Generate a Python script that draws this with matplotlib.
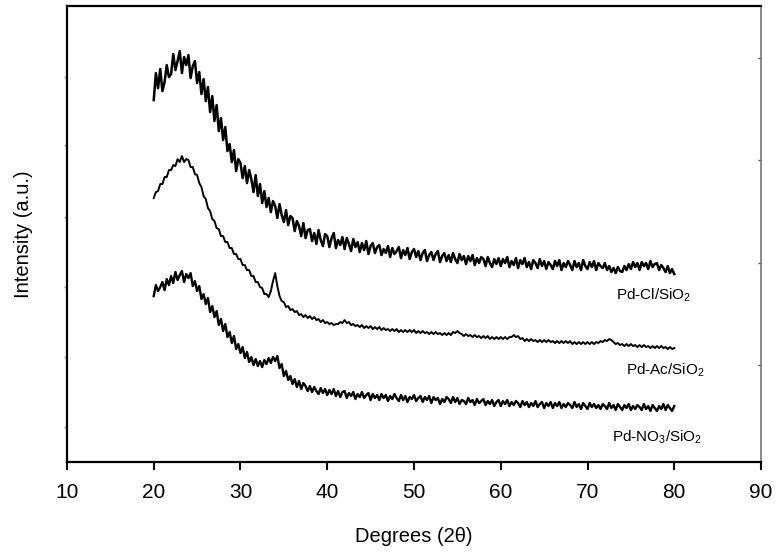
import numpy as np
import matplotlib
matplotlib.use("Agg")
import matplotlib.pyplot as plt

plt.rcParams['font.family'] = ['Liberation Sans', 'DejaVu Sans']
plt.rcParams['mathtext.fontset'] = 'custom'
plt.rcParams['mathtext.rm'] = 'Liberation Sans'
plt.rcParams['mathtext.default'] = 'regular'

# -------------------- Data (0.25 deg scan step) --------------------
two_theta = np.linspace(20, 80, 241)

pd_cl = [
    362, 389, 374, 393, 371, 380, 397, 385,   # 20-21.75
    388, 408, 392, 401, 411, 389, 405, 397,   # 22
    407, 384, 396, 401, 379, 390, 368, 383,   # 24
    361, 375, 350, 366, 341, 357, 331, 344,   # 26
    322, 335, 311, 318, 300, 312, 291, 303,   # 28
    299, 284, 296, 279, 292, 283, 270, 287,   # 30
    266, 278, 259, 271, 255, 264, 250, 261,   # 32
    256, 244, 258, 247, 240, 252, 237, 246,   # 34
    244, 231, 241, 236, 226, 239, 224, 232,   # 36
    233, 221, 229, 218, 232, 222, 216, 228,   # 38
    226, 215, 224, 229, 214, 222, 217, 225,   # 40
    213, 224, 218, 211, 223, 215, 220, 210,   # 42
    219, 212, 221, 208, 216, 219, 209, 215,   # 44
    217, 207, 213, 209, 216, 205, 214, 208,   # 46
    211, 215, 204, 212, 207, 214, 203, 210,   # 48
    213, 205, 211, 202, 209, 212, 201, 207,   # 50
    210, 202, 208, 211, 200, 206, 209, 201,   # 52
    207, 200, 209, 203, 199, 208, 202, 206,   # 54
    198, 206, 201, 207, 197, 204, 199, 205,   # 56
    203, 196, 205, 199, 195, 203, 198, 204,   # 58
    196, 203, 199, 205, 195, 201, 197, 204,   # 60
    194, 202, 198, 204, 195, 200, 193, 202,   # 62
    199, 194, 203, 196, 201, 193, 200, 197,   # 64
    193, 201, 196, 202, 192, 199, 195, 201,   # 66
    197, 192, 201, 195, 199, 192, 202, 196,   # 68
    193, 200, 195, 201, 192, 199, 196, 194,   # 70
    199, 192, 196, 190, 194, 189, 195, 191,   # 72
    190, 196, 192, 198, 193, 200, 195, 199,   # 74
    192, 200, 196, 199, 193, 201, 195, 198,   # 76
    199, 192, 197, 194, 190, 196, 189, 193,   # 78
    188,                                      # 80
]

pd_ac = [
    264, 270, 271, 278, 278, 285, 285, 292,
    292, 297, 296, 303, 300, 306, 300, 303,
    302, 295, 295, 288, 287, 279, 275, 266,
    263, 254, 251, 243, 241, 234, 233, 226,
    226, 220, 220, 214, 214, 208, 208, 203,
    203, 197, 197, 192, 192, 186, 186, 180,
    180, 175, 174, 168, 168, 165, 171, 181,
    189, 176, 166, 161, 160, 155, 156, 152,
    153, 150, 151, 147, 148, 145, 147, 144,
    146, 143, 145, 142, 143, 140, 142, 139,
    140, 138, 139, 137, 138, 138, 140, 139,
    142, 139, 140, 137, 138, 136, 137, 135,
    137, 134, 136, 134, 136, 133, 135, 133,
    135, 132, 134, 132, 133, 131, 133, 131,
    133, 130, 132, 130, 132, 130, 132, 130,
    132, 129, 131, 129, 131, 129, 130, 128,
    130, 128, 130, 128, 129, 127, 129, 127,
    129, 127, 130, 129, 131, 129, 128, 126,
    128, 126, 127, 125, 127, 125, 126, 124,
    126, 124, 126, 123, 125, 123, 125, 123,
    125, 123, 125, 123, 125, 125, 127, 125,
    126, 123, 124, 121, 123, 121, 123, 121,
    122, 120, 122, 120, 122, 120, 122, 120,
    121, 119, 121, 119, 121, 119, 121, 119,
    121, 118, 120, 118, 120, 118, 120, 118,
    120, 118, 120, 118, 120, 119, 121, 120,
    122, 121, 123, 122, 120, 118, 119, 117,
    118, 116, 118, 116, 118, 116, 117, 115,
    117, 115, 117, 115, 116, 114, 116, 114,
    116, 114, 116, 114, 115, 113, 115, 113,
    114,
]

pd_no3 = [
    166, 177, 171, 175, 180, 172, 183, 177,
    186, 179, 190, 182, 187, 191, 180, 188,
    184, 189, 176, 181, 171, 176, 163, 168,
    158, 164, 150, 156, 145, 151, 137, 143,
    131, 138, 125, 130, 119, 126, 113, 118,
    109, 115, 104, 110, 100, 105, 97, 103,
    96, 101, 95, 102, 98, 104, 99, 105,
    101, 106, 94, 98, 86, 91, 82, 86,
    78, 83, 75, 81, 73, 79, 76, 71,
    76, 70, 75, 71, 68, 74, 69, 73,
    67, 72, 68, 73, 66, 71, 65, 70,
    71, 64, 69, 66, 70, 63, 68, 65,
    70, 64, 67, 69, 62, 68, 64, 67,
    62, 68, 64, 67, 61, 66, 63, 68,
    64, 61, 67, 62, 66, 60, 65, 63,
    67, 61, 64, 66, 60, 65, 62, 66,
    59, 65, 62, 64, 58, 63, 60, 65,
    63, 59, 65, 60, 64, 58, 62, 61,
    58, 64, 60, 62, 57, 63, 59, 61,
    63, 57, 61, 58, 62, 56, 60, 62,
    56, 61, 58, 62, 56, 60, 57, 61,
    59, 55, 61, 57, 60, 55, 59, 56,
    61, 55, 58, 60, 54, 59, 56, 60,
    54, 59, 56, 60, 54, 58, 55, 59,
    57, 54, 60, 55, 58, 53, 59, 56,
    53, 59, 55, 58, 54, 57, 53, 58,
    56, 53, 59, 54, 57, 52, 58, 55,
    52, 57, 54, 58, 52, 56, 53, 57,
    55, 52, 58, 53, 56, 51, 57, 54,
    51, 56, 53, 58, 52, 57, 54, 51,
    56,
]

labels = ["Pd-Cl/SiO$_2$", "Pd-Ac/SiO$_2$", "Pd-NO$_3$/SiO$_2$"]
label_pos = [(73.3, 167), (74.4, 92), (72.8, 25)]

x_ticks = [10, 20, 30, 40, 50, 60, 70, 80, 90]
left_minor = [35, 105, 175, 245, 317, 385]
right_minor = [97, 199, 302, 404]

# -------------------- Plot --------------------
fig = plt.figure(figsize=(7.76, 5.54), dpi=100)
ax = fig.add_axes([0.0863, 0.166, 0.8944, 0.823])

for series, lw in ((pd_cl, 1.8), (pd_ac, 1.4), (pd_no3, 1.7)):
    ax.plot(two_theta, series, color='black', lw=lw)

for text, (tx, ty) in zip(labels, label_pos):
    ax.text(tx, ty, text, fontsize=11, ha='left', va='center')

ax.set_xlim(10, 90)
ax.set_ylim(0, 456)
ax.set_xticks(x_ticks)
ax.tick_params(axis='x', direction='out', length=6, width=1.5, labelsize=15, pad=9)
ax.set_yticks(left_minor)
ax.set_yticklabels([])
ax.tick_params(axis='y', direction='out', length=2, width=1, color='#999999')

sec = ax.secondary_yaxis('right')
sec.set_yticks(right_minor)
sec.set_yticklabels([])
sec.tick_params(axis='y', direction='in', length=2, width=1, color='#555555')
sec.spines['right'].set_color('#777777')
sec.spines['right'].set_linewidth(1.2)

for side in ('left', 'bottom', 'top'):
    ax.spines[side].set_linewidth(1.6)
ax.spines['right'].set_visible(False)

ax.set_xlabel("Degrees (2θ)", fontsize=14.5, labelpad=18)
ax.set_ylabel("Intensity (a.u.)", fontsize=14.5, labelpad=19)

fig.savefig("out.png", dpi=100)
